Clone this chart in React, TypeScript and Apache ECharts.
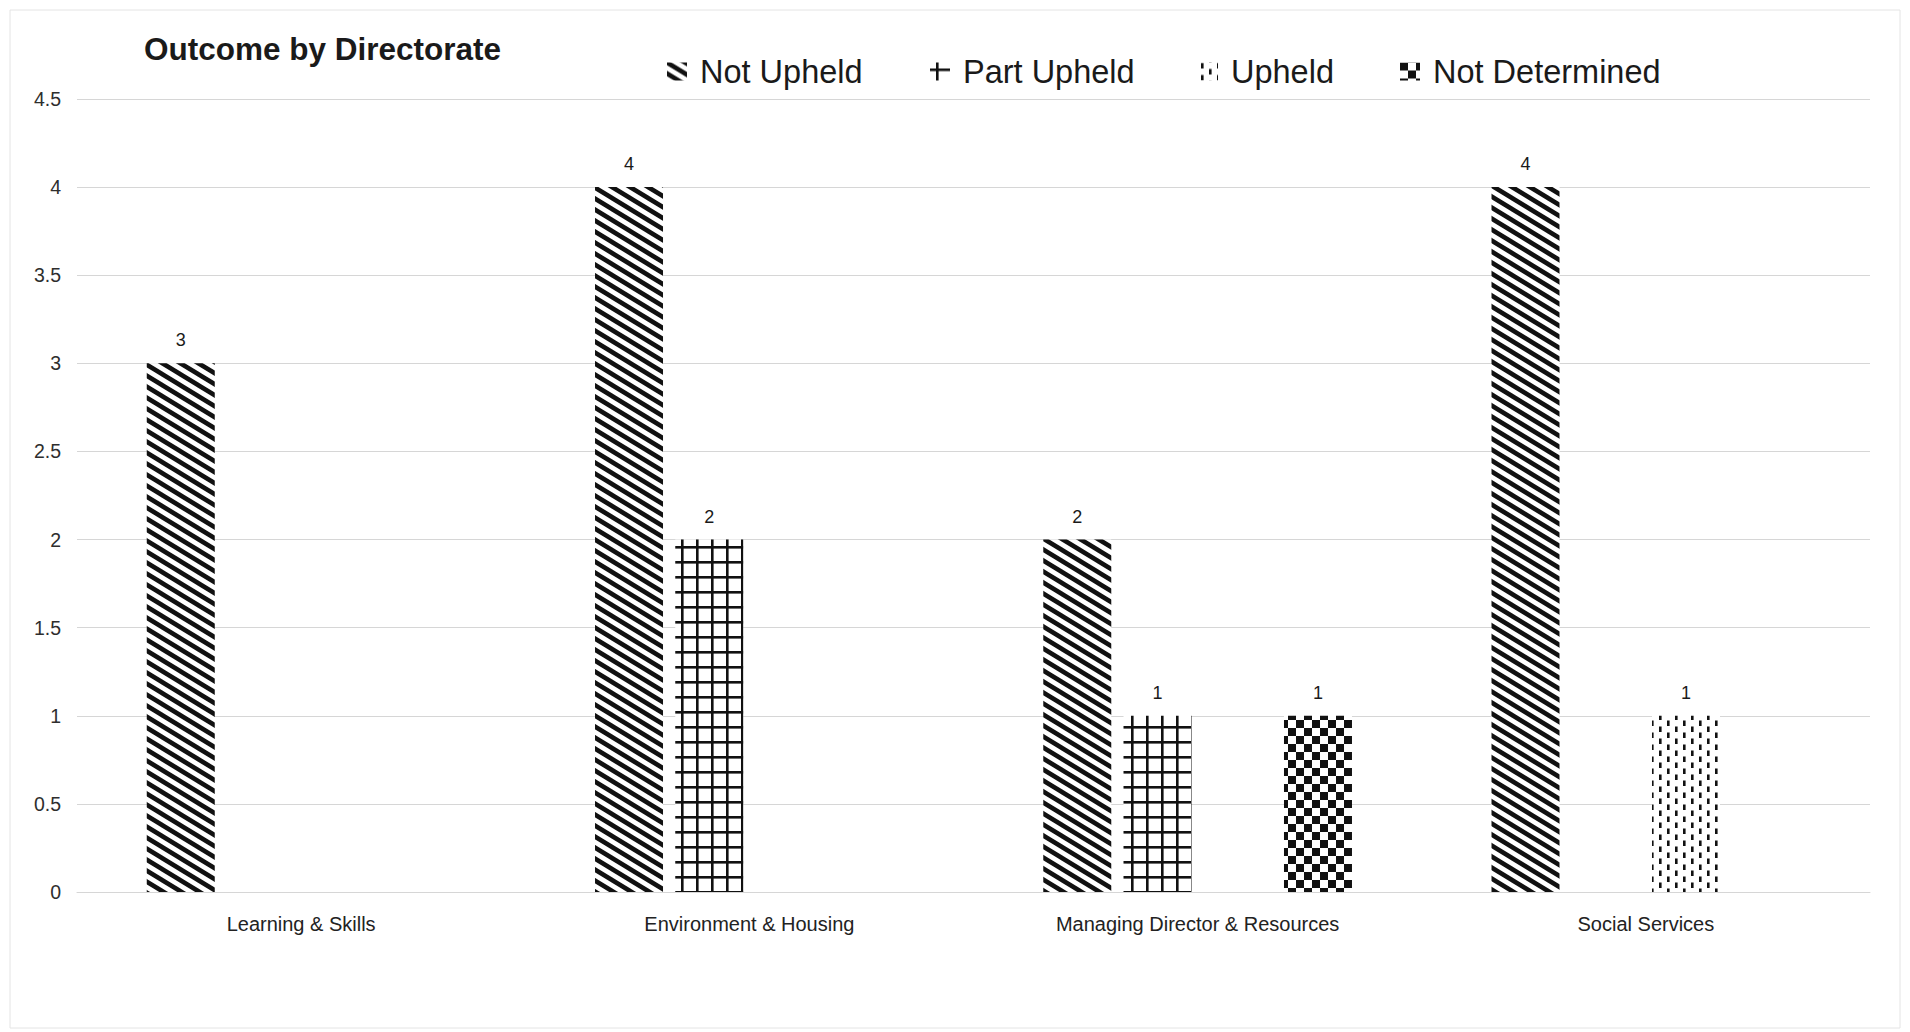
import React, { useEffect, useRef } from "react";
import * as echarts from "echarts";

const categories = [
  "Learning & Skills",
  "Environment & Housing",
  "Managing Director & Resources",
  "Social Services",
];
const seriesNames = ["Not Upheld", "Part Upheld", "Upheld", "Not Determined"];
const notUpheld = [3, 4, 2, 4];
const partUpheld = [null, 2, 1, null];
const upheld = [null, null, null, 1];
const notDetermined = [null, null, 1, null];
const yTicks = { min: 0, max: 4.5, interval: 0.5 };
const chartTitle = "Outcome by Directorate";

const FONT = "Liberation Sans, Arial, sans-serif";

function makeTile(w: number, h: number, draw: (ctx: CanvasRenderingContext2D, w: number, h: number) => void) {
  const c = document.createElement("canvas");
  c.width = w;
  c.height = h;
  const ctx = c.getContext("2d") as CanvasRenderingContext2D;
  ctx.fillStyle = "#ffffff";
  ctx.fillRect(0, 0, w, h);
  ctx.fillStyle = "#111111";
  ctx.strokeStyle = "#111111";
  draw(ctx, w, h);
  return { image: c.toDataURL(), repeat: "repeat", imageWidth: w, imageHeight: h };
}

function patterns() {
  const diag = makeTile(18, 11, (ctx, w, h) => {
    ctx.lineWidth = 4.6;
    const s = h / w;
    for (let k = -3; k <= 3; k++) {
      ctx.beginPath();
      ctx.moveTo(-w, -w * s + k * h);
      ctx.lineTo(2 * w, 2 * w * s + k * h);
      ctx.stroke();
    }
  });
  const grid = makeTile(15, 15, (ctx, w, h) => {
    ctx.fillRect(6, 0, 2.6, h);
    ctx.fillRect(0, 6, w, 2.6);
  });
  const dashes = makeTile(16, 12, (ctx) => {
    ctx.fillRect(3, 0.5, 2.6, 5.5);
    ctx.fillRect(11, 6.5, 2.6, 5.5);
  });
  const checker = makeTile(16, 16, (ctx) => {
    ctx.fillRect(0, 0, 8, 8);
    ctx.fillRect(8, 8, 8, 8);
  });
  return [diag, grid, dashes, checker];
}

export default function App() {
  const ref = useRef<HTMLDivElement>(null);

  useEffect(() => {
    if (!ref.current) return;
    const chart = echarts.init(ref.current, null, { renderer: "svg" });
    const pats = patterns();
    const dataSets = [notUpheld, partUpheld, upheld, notDetermined];
    const legendLeft = [667, 930, 1198, 1400];

    chart.setOption({
      animation: false,
      backgroundColor: "#ffffff",
      title: {
        text: chartTitle,
        left: 144,
        top: 33,
        padding: 0,
        textStyle: { fontFamily: FONT, fontSize: 31.5, fontWeight: "bold", color: "#1a1a1a" },
      },
      legend: seriesNames.map((name, i) => ({
        data: [name],
        left: legendLeft[i],
        top: 55,
        padding: 0,
        icon: "rect",
        itemWidth: 20,
        itemHeight: 18,
        selectedMode: false,
        textStyle: { fontFamily: FONT, fontSize: 32.5, color: "#1a1a1a", padding: [0, 0, 0, 8] },
      })),
      graphic: [
        {
          type: "rect",
          shape: { x: 10, y: 10, width: 1890, height: 1018 },
          style: { fill: "none", stroke: "#e4e4e4", lineWidth: 1 },
          silent: true,
        },
      ],
      grid: { left: 77, right: 40, top: 99, bottom: 140, containLabel: false },
      xAxis: {
        type: "category",
        data: categories,
        axisTick: { show: false },
        axisLine: { show: true, lineStyle: { color: "#d6d6d6", width: 1 } },
        axisLabel: { fontFamily: FONT, fontSize: 20, color: "#222222", margin: 22 },
      },
      yAxis: {
        type: "value",
        min: yTicks.min,
        max: yTicks.max,
        interval: yTicks.interval,
        axisLine: { show: false },
        axisTick: { show: false },
        axisLabel: { fontFamily: FONT, fontSize: 19.5, color: "#2e2e2e", margin: 16 },
        splitLine: { lineStyle: { color: "#d6d6d6", width: 1 } },
      },
      series: seriesNames.map((name, i) => ({
        name,
        type: "bar",
        data: dataSets[i],
        barWidth: 68,
        barGap: "18%",
        itemStyle: { color: pats[i] },
        label: {
          show: true,
          position: "top",
          distance: 14,
          fontFamily: FONT,
          fontSize: 18,
          color: "#1a1a1a",
        },
      })),
    });

    return () => chart.dispose();
  }, []);

  return (
    <div
      ref={ref}
      style={{ position: "fixed", left: 0, top: 0, width: 1910, height: 1032, background: "#fff" }}
    />
  );
}
